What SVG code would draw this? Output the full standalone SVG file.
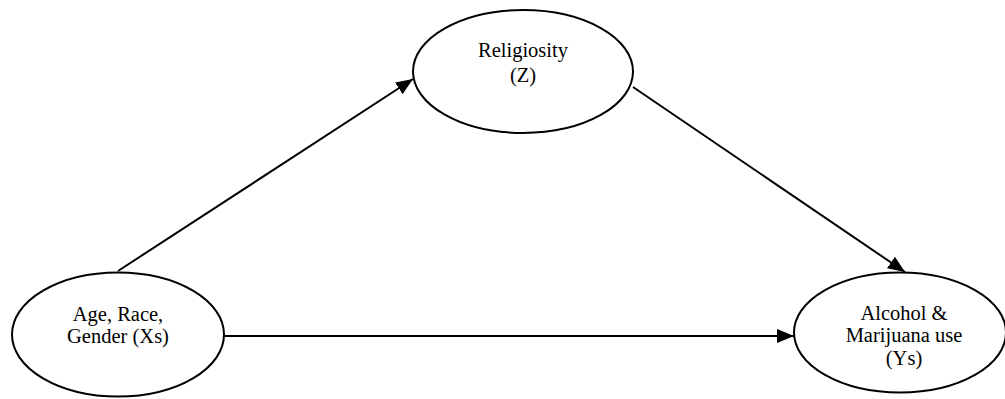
<svg xmlns="http://www.w3.org/2000/svg" width="1005" height="399" viewBox="0 0 1005 399">
<style>
.node{fill:#fff;stroke:#000;stroke-width:2}
.lbl{font-family:"Liberation Serif","Times New Roman",serif;font-size:20.5px;fill:#000;text-anchor:middle}
.edge{stroke:#000;stroke-width:2;fill:none;marker-end:url(#ah)}
</style>
<defs>
<marker id="ah" markerUnits="userSpaceOnUse" markerWidth="18" markerHeight="14" refX="17" refY="7" orient="auto">
<path d="M0,0 L17,7 L0,14 Z" fill="#000"/>
</marker>
</defs>
<rect width="1005" height="399" fill="#fff"/>
<g id="connectors">
<line class="edge" x1="118" y1="271" x2="413" y2="79"/>
<line class="edge" x1="633" y1="87" x2="905" y2="272"/>
<line class="edge" x1="224" y1="336" x2="794" y2="336"/>
</g>
<g id="religiosity">
<ellipse class="node" cx="523" cy="71.5" rx="110" ry="61.5"/>
<text class="lbl" x="523" y="57">Religiosity</text>
<text class="lbl" x="523" y="82">(Z)</text>
</g>
<g id="xs">
<ellipse class="node" cx="118" cy="334.5" rx="106" ry="62"/>
<text class="lbl" x="118" y="321">Age, Race,</text>
<text class="lbl" x="118" y="343">Gender (Xs)</text>
</g>
<g id="ys">
<ellipse class="node" cx="900" cy="332.5" rx="106" ry="60"/>
<text class="lbl" x="904" y="320">Alcohol &amp;</text>
<text class="lbl" x="904" y="342">Marijuana use</text>
<text class="lbl" x="904" y="365">(Ys)</text>
</g>
</svg>
